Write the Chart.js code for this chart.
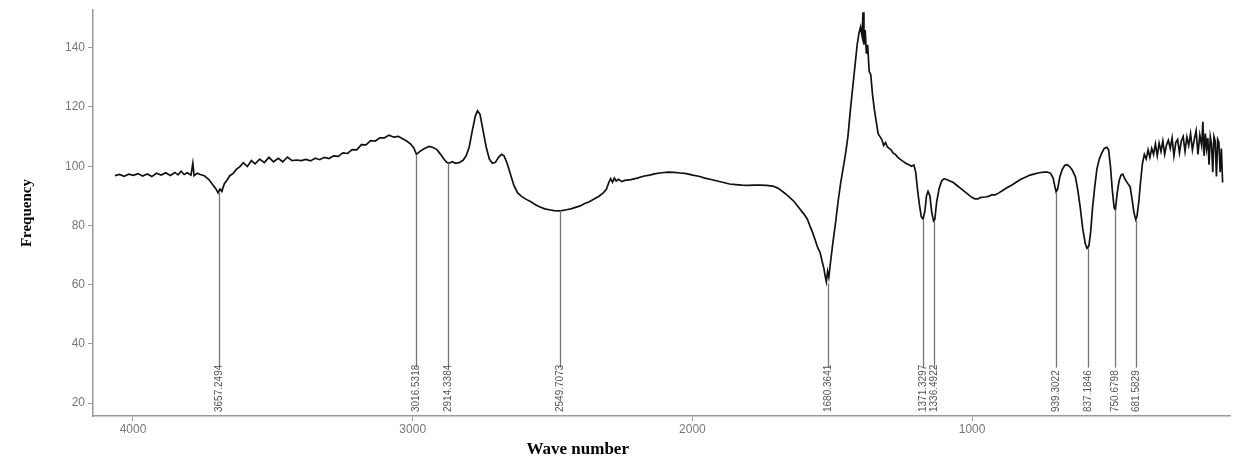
<!DOCTYPE html>
<html>
<head>
<meta charset="utf-8">
<script src="https://cdn.jsdelivr.net/npm/chart.js@4"></script>
<style>
  body { margin: 0; background: #fff; }
  #wrap { width: 1234px; height: 462px; }
</style>
</head>
<body>
<div id="wrap"><canvas id="chart" width="1234" height="462"></canvas></div>
<script>
// spectrum (wave number, frequency)
var waveNumbers = [
  3995, 3980, 3965, 3950, 3935, 3920, 3905, 3890, 3875, 3860, 3845, 3830, 3815, 3800, 3790, 3780, 3770, 3760, 3748, 3742,
  3738, 3728, 3718, 3705, 3690, 3678, 3668, 3660, 3654, 3648, 3640, 3632, 3622, 3612, 3600, 3590, 3578, 3565, 3552, 3540,
  3525, 3510, 3495, 3480, 3465, 3450, 3435, 3420, 3405, 3390, 3375, 3360, 3345, 3330, 3315, 3300, 3285, 3270, 3255, 3240,
  3225, 3210, 3195, 3180, 3165, 3150, 3135, 3120, 3105, 3090, 3075, 3060, 3048, 3035, 3025, 3016, 3005, 2990, 2975, 2962,
  2950, 2938, 2928, 2918, 2911, 2900, 2890, 2878, 2865, 2855, 2845, 2835, 2825, 2818, 2810, 2800, 2790, 2780, 2770, 2760,
  2750, 2740, 2732, 2722, 2712, 2700, 2688, 2675, 2660, 2645, 2630, 2615, 2600, 2585, 2570, 2555, 2545, 2530, 2515, 2500,
  2485, 2470, 2455, 2440, 2425, 2410, 2400, 2392, 2386, 2380, 2374, 2368, 2360, 2350, 2340, 2320, 2300, 2280, 2260, 2240,
  2220, 2200, 2180, 2160, 2140, 2120, 2100, 2080, 2060, 2040, 2020, 2000, 1980, 1960, 1940, 1920, 1900, 1880, 1860, 1845,
  1835, 1820, 1805, 1790, 1775, 1760, 1748, 1738, 1730, 1722, 1714, 1706, 1700, 1694, 1690, 1686, 1682, 1678, 1672, 1665,
  1656, 1648, 1640, 1632, 1624, 1616, 1608, 1600, 1592, 1586, 1580, 1575, 1570, 1567, 1564, 1560, 1556, 1552, 1547, 1542,
  1536, 1530, 1524, 1518, 1512, 1506, 1500, 1494, 1488, 1482, 1476, 1470, 1462, 1454, 1446, 1438, 1428, 1418, 1410, 1402,
  1396, 1390, 1384, 1378, 1372, 1366, 1361, 1356, 1350, 1344, 1338, 1334, 1328, 1320, 1312, 1304, 1296, 1285, 1274, 1262,
  1250, 1238, 1226, 1214, 1204, 1194, 1184, 1170, 1160, 1150, 1138, 1126, 1114, 1100, 1085, 1070, 1055, 1040, 1025, 1010,
  995, 980, 968, 958, 950, 944, 940, 935, 928, 920, 912, 904, 896, 888, 878, 870, 862, 854, 846, 840,
  834, 828, 822, 815, 808, 800, 792, 784, 776, 770, 764, 758, 752, 748, 742, 736, 730, 724, 716, 708,
  700, 694, 688, 682, 678, 672, 666, 660, 654, 648, 642, 636, 630, 624, 618, 612, 606, 600, 594, 588,
  582, 576, 570, 564, 558, 552, 546, 540, 534, 528, 522, 516, 510, 504, 498, 492, 486, 480, 474, 468,
  464, 460, 456, 452, 448, 444, 440, 436, 432, 428, 424, 420, 416, 412, 408, 404, 400
];
var frequency = [
  96.8, 97.2, 96.6, 97.3, 96.9, 97.5, 96.7, 97.4, 96.5, 97.6, 97.0, 97.8, 96.9, 97.9, 97.1, 98.3, 97.2, 97.8, 97.0, 101.0,
  96.8, 97.6, 97.2, 96.8, 95.5, 93.8, 92.5, 91.0, 92.3, 91.5, 94.0, 95.2, 96.8, 97.5, 99.0, 99.8, 101.2, 99.9, 101.9, 100.8,
  102.4, 101.2, 103.0, 101.5, 102.7, 101.5, 103.1, 101.9, 102.1, 101.9, 102.3, 101.8, 102.7, 102.2, 103.0, 102.6, 103.5, 103.3, 104.5, 104.3,
  105.6, 105.5, 107.3, 107.2, 108.6, 108.5, 109.6, 109.6, 110.5, 109.8, 110.1, 109.2, 108.5, 107.5, 106.2, 104.0, 105.0, 106.0, 106.7, 106.3,
  105.6, 104.0, 102.5, 101.3, 101.0, 101.5, 101.0, 101.2, 102.0, 103.5, 106.5, 112.0, 117.0, 118.7, 117.5, 112.0, 106.5, 102.5, 101.0, 101.3,
  103.0, 104.0, 103.5, 101.0, 97.5, 93.5, 91.0, 89.8, 88.8, 88.0, 87.0, 86.2, 85.6, 85.3, 85.0, 84.9, 85.0, 85.3, 85.6, 86.1,
  86.6, 87.4, 88.0, 88.9, 89.8, 91.0, 92.2, 94.5, 95.8, 94.6, 96.0, 95.0, 95.6, 94.8, 95.2, 95.5, 96.0, 96.6, 97.0, 97.5,
  97.8, 98.0, 97.9, 97.7, 97.5, 97.0, 96.6, 96.0, 95.5, 95.0, 94.5, 94.0, 93.8, 93.6, 93.5, 93.6, 93.6, 93.5, 93.3, 92.7,
  92.0, 90.8, 89.5, 88.0, 86.0, 84.0, 82.2, 79.5, 77.5, 75.0, 72.5, 70.8, 68.0, 65.5, 63.0, 61.0, 64.5, 62.5, 68.0, 74.0,
  81.0, 88.0, 94.0, 99.0, 104.0, 110.0, 119.0, 127.0, 135.0, 141.0, 145.0, 147.0, 144.0, 152.0, 141.0, 146.0, 138.0, 141.0, 132.0, 131.0,
  124.0, 119.0, 115.0, 111.0, 110.0, 109.0, 107.0, 108.0, 106.5, 106.0, 105.5, 104.5, 104.0, 103.0, 102.3, 101.7, 101.0, 100.5, 100.0, 100.4,
  98.0, 92.0, 87.0, 83.0, 82.2, 85.0, 90.0, 91.5, 90.0, 84.5, 81.5, 82.0, 88.0, 92.5, 95.0, 95.8, 95.5, 95.0, 94.5, 93.5,
  92.5, 91.5, 90.5, 89.5, 89.0, 89.0, 89.5, 89.6, 89.8, 90.3, 90.3, 91.0, 91.8, 92.7, 93.6, 94.6, 95.6, 96.3, 97.0, 97.4,
  97.8, 98.0, 98.0, 97.6, 96.0, 93.0, 91.3, 92.5, 96.5, 99.0, 100.3, 100.5, 99.8, 98.7, 96.5, 92.0, 86.0, 79.0, 74.0, 72.3,
  73.0, 78.0, 86.0, 93.0, 99.0, 102.5, 104.5, 106.0, 106.4, 105.5, 100.0, 92.0, 86.0, 85.3, 91.0, 95.0, 97.0, 97.3, 95.5, 94.2,
  93.0, 89.0, 84.5, 82.0, 83.0, 88.0, 95.0, 101.0, 104.0, 102.5, 105.5, 103.0, 106.0, 104.0, 107.5, 103.5, 107.8, 105.0, 108.5, 104.0,
  107.2, 108.8, 106.0, 109.5, 103.5, 108.0, 109.0, 104.5, 108.5, 110.0, 105.0, 109.8, 107.0, 111.0, 105.5, 109.0, 112.0, 104.0, 110.5, 107.0,
  115.0, 103.5, 111.0, 106.0, 109.5, 100.5, 110.0, 107.5, 98.0, 110.0, 108.5, 96.5, 109.0, 108.0, 98.0, 106.0, 94.5
];

// marked peaks
var peakWave = [3657.2494, 3016.5318, 2914.3384, 2549.7073, 1680.3641, 1371.3297, 1336.4922, 939.3022, 837.1846, 750.6798, 681.5829];
var peakLabels = ['3657.2494', '3016.5318', '2914.3384', '2549.7073', '1680.3641', '1371.3297', '1336.4922', '939.3022', '837.1846', '750.6798', '681.5829'];
var peakTop = [91.0, 104.0, 101.0, 85.0, 60.5, 82.2, 81.5, 91.3, 72.3, 85.3, 82.0];
var peakBottom = 32;

// printed axis ticks
var xTickLabels = ['4000', '3000', '2000', '1000'];
var yTicks = [20, 40, 60, 80, 100, 120, 140];

var points = waveNumbers.map(function (w, i) {
  return { x: w, y: frequency[i] };
});

var peakMarks = {
  id: 'peakMarks',
  afterDatasetsDraw: function (chart) {
    var ctx = chart.ctx;
    var xs = chart.scales.x;
    var ys = chart.scales.y;
    ctx.save();
    ctx.strokeStyle = '#777';
    ctx.lineWidth = 1.3;
    peakWave.forEach(function (w, i) {
      var px = Math.round(xs.getPixelForValue(w)) + 0.5;
      ctx.beginPath();
      ctx.moveTo(px, ys.getPixelForValue(peakTop[i]));
      ctx.lineTo(px, ys.getPixelForValue(peakBottom));
      ctx.stroke();
      ctx.save();
      ctx.translate(px, chart.chartArea.bottom - 4);
      ctx.rotate(-Math.PI / 2);
      ctx.fillStyle = '#555';
      ctx.font = '10px "Liberation Sans Narrow", "Liberation Sans", sans-serif';
      ctx.textAlign = 'left';
      ctx.textBaseline = 'middle';
      ctx.fillText(peakLabels[i], 0, 0);
      ctx.restore();
    });
    ctx.restore();
  }
};

var xTitle = {
  id: 'xTitle',
  afterDraw: function (chart) {
    var ctx = chart.ctx;
    ctx.save();
    ctx.fillStyle = '#000';
    ctx.font = 'bold 17px "Liberation Serif", serif';
    ctx.textAlign = 'center';
    ctx.textBaseline = 'middle';
    ctx.fillText('Wave number', chart.scales.xt.getPixelForValue(2410), 450);
    ctx.restore();
  }
};

new Chart('chart', {
  type: 'line',
  data: {
    datasets: [{
      data: points,
      borderColor: '#111',
      borderWidth: 1.7,
      pointRadius: 0,
      tension: 0,
      fill: false
    }]
  },
  plugins: [peakMarks, xTitle],
  options: {
    responsive: false,
    animation: false,
    layout: { padding: { top: 5, right: 4, left: 0, bottom: 0 } },
    plugins: { legend: { display: false }, tooltip: { enabled: false } },
    scales: {
      x: {
        type: 'linear',
        display: false,
        reverse: true,
        min: 376,
        max: 4066
      },
      xt: {
        type: 'linear',
        position: 'bottom',
        reverse: true,
        min: 78,
        max: 4143,
        afterBuildTicks: function (scale) {
          scale.ticks = xTickLabels.map(function (t) { return { value: +t }; });
        },
        afterFit: function (scale) { scale.height = 46; },
        border: { display: true, color: '#999', width: 1.5 },
        grid: { display: true, drawOnChartArea: false, drawTicks: true, tickLength: 5, color: '#999' },
        ticks: {
          color: '#777',
          font: { family: '"Liberation Sans", Arial, sans-serif', size: 12 },
          padding: 1,
          maxRotation: 0,
          callback: function (v) { return String(v); }
        }
      },
      y: {
        min: 15.67,
        max: 152.67,
        afterBuildTicks: function (scale) {
          scale.ticks = yTicks.map(function (t) { return { value: t }; });
        },
        afterFit: function (scale) { scale.width = 93; },
        border: { display: true, color: '#999', width: 1.5 },
        grid: { display: true, drawOnChartArea: false, drawTicks: true, tickLength: 5, color: '#999' },
        ticks: {
          color: '#777',
          font: { family: '"Liberation Sans", Arial, sans-serif', size: 12 },
          padding: 3
        },
        title: {
          display: true,
          text: 'Frequency',
          color: '#000',
          font: { family: '"Liberation Serif", serif', size: 15, weight: 'bold' },
          padding: { top: 18, bottom: 0 }
        }
      }
    }
  }
});
</script>
</body>
</html>
